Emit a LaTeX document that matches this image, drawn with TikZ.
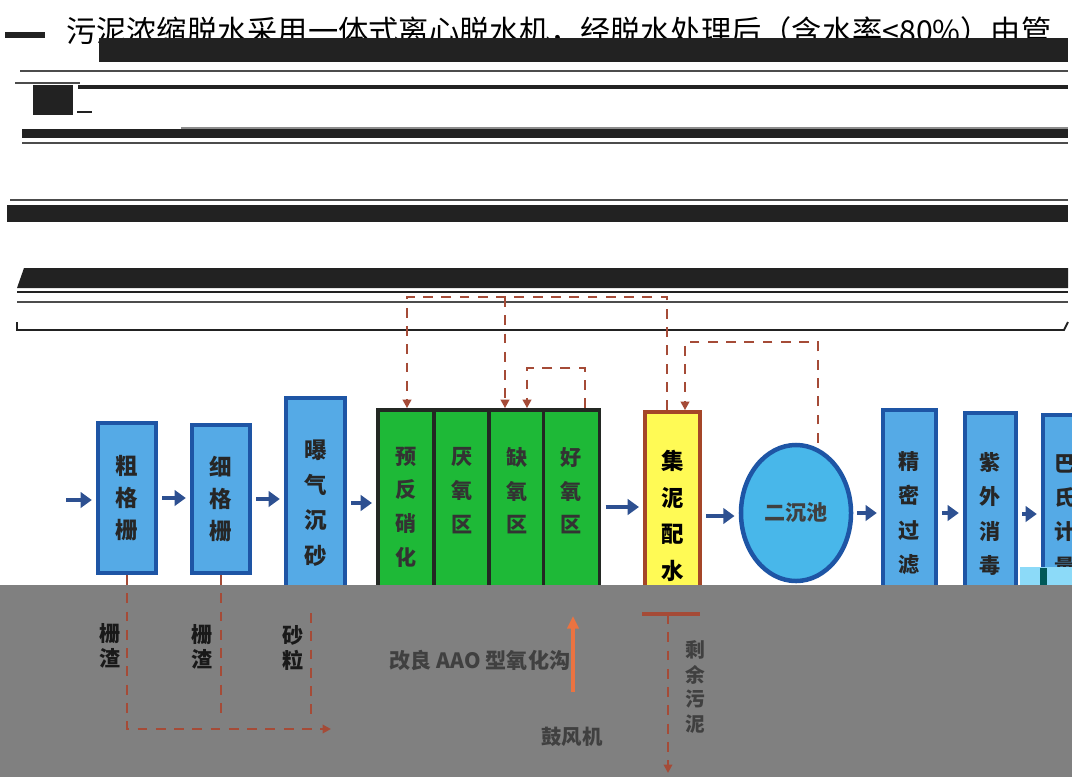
\documentclass[tikz,border=0pt]{standalone}
\usepackage{fontspec}
\newfontfamily\cjk{Noto Sans CJK SC}
\usetikzlibrary{arrows.meta,shapes.geometric}

\definecolor{boxblue}{RGB}{85,170,230}
\definecolor{boxedge}{RGB}{30,85,165}
\definecolor{tankgreen}{RGB}{30,185,55}
\definecolor{tankedge}{RGB}{35,40,35}
\definecolor{mixyellow}{RGB}{255,250,85}
\definecolor{mixedge}{RGB}{165,70,40}
\definecolor{flowblue}{RGB}{45,80,145}
\definecolor{sludge}{RGB}{165,75,55}
\definecolor{airorange}{RGB}{235,115,65}
\definecolor{redact}{RGB}{34,34,34}
\definecolor{mask}{RGB}{128,128,128}

\begin{document}
\begin{tikzpicture}[x=0.025cm, y=-0.025cm,
    unit/.style={draw=boxedge, line width=2.8pt, fill=boxblue, inner sep=0pt,
                 align=center, text=black!85,
                 font=\cjk\bfseries\fontsize{16}{23}\selectfont},
    tank/.style={draw=tankedge, line width=2.6pt, fill=tankgreen, inner sep=0pt,
                 minimum width=1.4cm, minimum height=4.85cm, align=center,
                 text=black!80, font=\cjk\bfseries\fontsize{15}{24}\selectfont},
    flow/.style={flowblue, line width=3.5pt, -{Triangle[length=8pt,width=11pt]},
                 shorten <=3pt, shorten >=3pt},
    ret/.style={sludge, line width=2.1pt, dash pattern=on 7pt off 6pt},
    rettip/.style={-{Triangle[length=6pt,width=6pt]}},
    rule/.style={draw=black!70, line width=1pt},
    tag/.style={inner sep=0pt, align=center, text=black!90,
                font=\cjk\bfseries\fontsize{15}{18}\selectfont}]
  \useasboundingbox (0,0) rectangle (1072,777);
  \clip (0,0) rectangle (1072,777);
  \fill[white] (0,0) rectangle (1072,777);

  % scanned text line, half covered
  \node[anchor=west, inner sep=0pt, font=\cjk\fontsize{21.5}{26}\selectfont] (para) at (66,31)
    {污泥浓缩脱水采用一体式离心脱水机，经脱水处理后（含水率<80\%）由管};

  % blacked-out lines
  \fill[redact] (5,32) rectangle (45,38);
  \fill[redact] (99,38) rectangle (1068,62);
  \draw[rule] (20,71) -- (1068,71);
  \draw[rule] (15,83) -- (80,83);
  \draw[redact, line width=2.8pt] (78,87) -- (1068,87);
  \fill[redact] (33,85) rectangle (73,115);
  \draw[redact, line width=1.4pt] (77,112) -- (92,112);
  \draw[rule, black!45] (181,128) -- (1068,128);
  \fill[redact] (22,129) rectangle (1068,138);
  \draw[rule] (22,143) -- (1068,143);
  \draw[rule] (10,200) -- (1068,200);
  \fill[redact] (7,205) rectangle (1068,222);
  \fill[redact] (17,288) -- (24,268) -- (1068,268) -- (1068,288) -- cycle;
  \draw[redact, line width=1.6pt] (17,292) -- (1068,292);
  \draw[rule] (17,302) -- (1068,302);
  \draw[redact, line width=1.4pt] (17,322) -- (17,330) -- (1064,330) -- (1068,322);

  % pretreatment
  \node[unit, minimum width=1.45cm, minimum height=3.75cm] (cgs) at (127,498) {粗\\格\\栅};
  \node[unit, minimum width=1.45cm, minimum height=3.7cm] (xgs) at (221,499) {细\\格\\栅};
  \node[unit, minimum width=1.475cm, minimum height=5.25cm,
        font=\cjk\bfseries\fontsize{16}{25}\selectfont] (pqcs) at (315.5,503) {曝\\气\\沉\\砂};

  % AAO oxidation ditch
  \node[tank] (yfx) at (406,507) {预\\反\\硝\\化};
  \node[tank] (yy) at (462,507) {厌\\氧\\区\\\mbox{}};
  \node[tank] (qy) at (517,507) {缺\\氧\\区\\\mbox{}};
  \node[tank] (hy) at (571.5,507) {好\\氧\\区\\\mbox{}};

  % sludge well, clarifier and tertiary units
  \node[draw=mixedge, line width=2.6pt, fill=mixyellow, inner sep=0pt,
        minimum width=1.375cm, minimum height=5.2cm, align=center,
        font=\cjk\bfseries\fontsize{16}{26}\selectfont] (jn) at (672.5,516) {集\\泥\\配\\水};
  \node[ellipse, draw=boxedge, line width=3.2pt, fill=boxblue!85!cyan, inner sep=0pt,
        minimum width=2.75cm, minimum height=3.4cm, text=black!75,
        font=\cjk\bfseries\fontsize{15}{18}\selectfont] (ecc) at (796,513) {二沉池};
  \node[unit, minimum width=1.325cm, minimum height=5.15cm,
        font=\cjk\bfseries\fontsize{15}{24.5}\selectfont] (jm) at (909.5,513) {精\\密\\过\\滤};
  \node[unit, minimum width=1.275cm, minimum height=5.05cm,
        font=\cjk\bfseries\fontsize{15}{24.5}\selectfont] (zw) at (990.5,514) {紫\\外\\消\\毒};
  \node[unit, minimum width=1.1cm, minimum height=5cm,
        font=\cjk\bfseries\fontsize{15}{24.5}\selectfont] (bs) at (1065,515) {巴\\氏\\计\\量};

  % main flow
  \coordinate (inlet) at (62,500);
  \draw[flow] (inlet) -- (cgs.west |- inlet);
  \draw[flow] (cgs.east) -- (cgs.east -| xgs.west);
  \draw[flow] (xgs.east) -- (xgs.east -| pqcs.west);
  \draw[flow] (pqcs.east) -- (pqcs.east -| yfx.west);
  \draw[flow] (hy.east) -- (hy.east -| jn.west);
  \draw[flow] (jn.east) -- (jn.east -| ecc.west);
  \draw[flow] (ecc.east) -- (ecc.east -| jm.west);
  \draw[flow] (jm.east) -- (jm.east -| zw.west);
  \draw[flow] (zw.east) -- (zw.east -| bs.west);

  % sludge return and internal recycle
  \coordinate (rtop) at (667,297);
  \coordinate (ltop) at (407,297);
  \coordinate (mtop) at (505,297);
  \draw[ret, rettip] (jn.north -| rtop) -- (rtop) -- (ltop) -- (ltop |- yfx.north);
  \draw[ret, rettip] (mtop) -- (mtop |- qy.north);
  \coordinate (nl) at (527,368);
  \coordinate (nr) at (585,368);
  \draw[ret, rettip] (nr |- hy.north) -- (nr) -- (nl) -- (nl |- qy.north);
  \coordinate (sl) at (685,342);
  \coordinate (sr) at (818,342);
  \draw[ret, rettip] (sr |- ecc.north) -- (sr) -- (sl) -- (sl |- jn.north);

  % scan noise
  \fill[cyan!45] (1020,567) rectangle (1072,585);
  \fill[teal!70!black] (1040,568) rectangle (1047,585);

  % grey cover
  \fill[mask] (0,585) rectangle (1072,777);

  % screenings and grit
  \coordinate (sand) at (311,613);
  \coordinate (bl) at (124,729);
  \coordinate (br) at (331,729);
  \draw[ret, rettip] (cgs.south) -- (cgs.south |- bl) -- (br);
  \draw[ret] (xgs.south) -- ([yshift=0.3cm]xgs.south |- bl);
  \draw[ret] (sand) -- ([yshift=0.3cm]sand |- bl);
  \node[tag] (sz1) at (110,646) {栅\\渣};
  \node[tag] (sz2) at (202,647) {栅\\渣};
  \node[tag] (sl2) at (293,648) {砂\\粒};

  % blower
  \node[inner sep=0pt, text=black!75, font=\cjk\bfseries\fontsize{15}{18}\selectfont]
    (aao) at (480,660) {改良 AAO 型氧化沟};
  \node[inner sep=0pt, text=black!75, font=\cjk\bfseries\fontsize{14.5}{18}\selectfont]
    (gfj) at (572,737) {鼓风机};
  \coordinate (air0) at (573,692);
  \coordinate (air1) at (573,616);
  \draw[airorange, line width=3pt, -{Triangle[length=9pt,width=8pt]}] (air0) -- (air1);

  % waste sludge
  \draw[sludge, line width=2.8pt] (642,614) -- (700,614);
  \coordinate (tj) at (668,614);
  \coordinate (sout) at (668,773);
  \draw[ret, rettip] (tj) -- (sout);
  \node[tag, text=black!75, font=\cjk\bfseries\fontsize{14}{17.7}\selectfont]
    (syw) at (695,687) {剩\\余\\污\\泥};
\end{tikzpicture}
\end{document}
